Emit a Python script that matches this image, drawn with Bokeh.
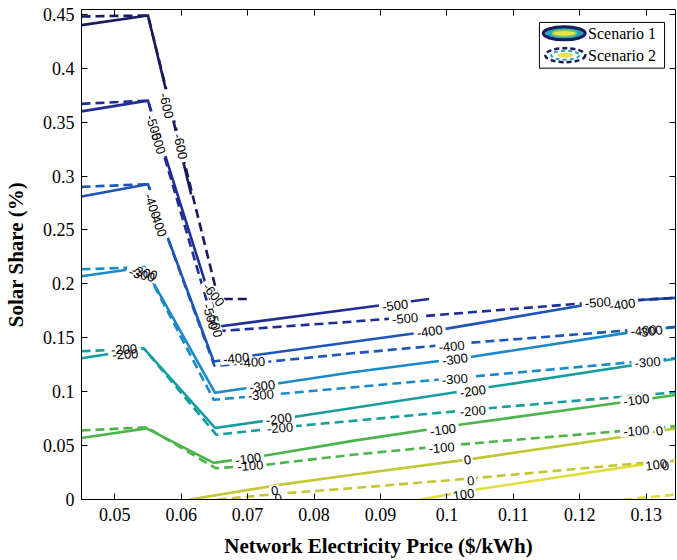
from bokeh.plotting import figure
from bokeh.models import Range1d, LinearAxis, FixedTicker
from bokeh.core.properties import value
from bokeh.embed import file_html
from bokeh.resources import INLINE

# ---- axes -------------------------------------------------------------
price_range = (0.045, 0.1344)
share_range = (0.0, 0.4545)
price_ticks = [0.05, 0.06, 0.07, 0.08, 0.09, 0.10, 0.11, 0.12, 0.13]
price_tick_labels = ["0.05", "0.06", "0.07", "0.08", "0.09", "0.1", "0.11", "0.12", "0.13"]
share_ticks = [0.0, 0.05, 0.10, 0.15, 0.20, 0.25, 0.30, 0.35, 0.40, 0.45]
share_tick_labels = ["0", "0.05", "0.1", "0.15", "0.2", "0.25", "0.3", "0.35", "0.4", "0.45"]

# ---- contour levels and colours ---------------------------------------
levels = [-600, -500, -400, -300, -200, -100, 0, 100]
level_colors = ["#191c5c", "#1f2e95", "#1d56b8", "#1889c9",
                "#169e9e", "#4cb54a", "#c5c535", "#e3dd3c"]

# ---- Scenario 1 contour paths (price $/kWh, solar share) --------------
s1_m600_price = [0.045, 0.0550, 0.0615]
s1_m600_share = [0.440, 0.449, 0.283]
s1_m500_price = [0.045, 0.0550, 0.0657, 0.0898, 0.0973]
s1_m500_share = [0.360, 0.370, 0.1605, 0.180, 0.186]
s1_m400_price = [0.045, 0.0550, 0.0649, 0.0713, 0.0950, 0.1002, 0.1232, 0.1344]
s1_m400_share = [0.281, 0.2925, 0.128, 0.134, 0.154, 0.1587, 0.183, 0.187]
s1_m300_price = [0.045, 0.0545, 0.0651, 0.0750, 0.0858, 0.1040, 0.1276, 0.1344]
s1_m300_share = [0.207, 0.2155, 0.099, 0.108, 0.118, 0.1326, 0.155, 0.160]
s1_m200_price = [0.045, 0.0544, 0.0651, 0.0779, 0.0858, 0.1067, 0.1344]
s1_m200_share = [0.131, 0.140, 0.0664, 0.0775, 0.0849, 0.1045, 0.1305]
s1_m100_price = [0.045, 0.0548, 0.0649, 0.0734, 0.0858, 0.1022, 0.1257, 0.1344]
s1_m100_share = [0.057, 0.066, 0.034, 0.0415, 0.0544, 0.0695, 0.0895, 0.097]
s1_zero_price = [0.0613, 0.0750, 0.0858, 0.1031, 0.1296, 0.1344]
s1_zero_share = [0.0, 0.0138, 0.023, 0.037, 0.061, 0.066]
s1_p100_price = [0.0960, 0.1047, 0.1296, 0.1344]
s1_p100_share = [0.0, 0.0095, 0.0326, 0.036]

# ---- Scenario 2 contour paths -----------------------------------------
s2_m600_price = [0.045, 0.0550, 0.0656, 0.0703]
s2_m600_share = [0.448, 0.449, 0.186, 0.186]
s2_m500_price = [0.045, 0.0550, 0.0652, 0.0858, 0.0962, 0.1206, 0.1344]
s2_m500_share = [0.367, 0.370, 0.156, 0.165, 0.170, 0.182, 0.187]
s2_m400_price = [0.045, 0.0550, 0.0650, 0.0734, 0.0858, 0.1027, 0.1276, 0.1344]
s2_m400_share = [0.290, 0.2925, 0.124, 0.128, 0.1356, 0.145, 0.157, 0.160]
s2_m300_price = [0.045, 0.0545, 0.0649, 0.0743, 0.0858, 0.1037, 0.1281, 0.1344]
s2_m300_share = [0.2135, 0.2155, 0.0925, 0.0977, 0.104, 0.114, 0.1275, 0.131]
s2_m200_price = [0.045, 0.0544, 0.0653, 0.0771, 0.0858, 0.1067, 0.1344]
s2_m200_share = [0.1375, 0.140, 0.060, 0.068, 0.0729, 0.0849, 0.0995]
s2_m100_price = [0.045, 0.0548, 0.0652, 0.0728, 0.0858, 0.1019, 0.1266, 0.1344]
s2_m100_share = [0.064, 0.067, 0.029, 0.0323, 0.0415, 0.051, 0.0637, 0.068]
s2_zero_price = [0.0655, 0.0749, 0.0858, 0.1036, 0.1296, 0.1344]
s2_zero_share = [0.0, 0.0055, 0.0105, 0.0195, 0.034, 0.036]
s2_p100_price = [0.1265, 0.1344]
s2_p100_share = [0.0, 0.0045]

scenario1 = [
    (-600, s1_m600_price, s1_m600_share), (-500, s1_m500_price, s1_m500_share),
    (-400, s1_m400_price, s1_m400_share), (-300, s1_m300_price, s1_m300_share),
    (-200, s1_m200_price, s1_m200_share), (-100, s1_m100_price, s1_m100_share),
    (0, s1_zero_price, s1_zero_share), (100, s1_p100_price, s1_p100_share),
]
scenario2 = [
    (-600, s2_m600_price, s2_m600_share), (-500, s2_m500_price, s2_m500_share),
    (-400, s2_m400_price, s2_m400_share), (-300, s2_m300_price, s2_m300_share),
    (-200, s2_m200_price, s2_m200_share), (-100, s2_m100_price, s2_m100_share),
    (0, s2_zero_price, s2_zero_share), (100, s2_p100_price, s2_p100_share),
]

# ---- contour labels: level, price, share, rotation (rad) ---------------
label_level = [-600, -600, -500, -500, -400, -400, -300, -300, -200, -200,
               -600, -500, -500, -400, -400, -300, -300, -200, -200, -100, -100, 0, 0,
               -500, -500, -400, -400, -300, -300, -200, -200, -100, -100, 0, 0, 100,
               -500, -400, -400, -300, -300, -100, -100, 0, 100, 0]
label_price = [0.0578, 0.0599, 0.0559, 0.0565, 0.0557, 0.0566, 0.0541, 0.0545, 0.0514, 0.0516,
               0.0649, 0.0644, 0.0651, 0.0683, 0.0707, 0.0722, 0.0720, 0.0747, 0.0749, 0.0701, 0.0704, 0.0741, 0.0746,
               0.0922, 0.0937, 0.0974, 0.1007, 0.1012, 0.1012, 0.1039, 0.1039, 0.0994, 0.0992, 0.1031, 0.1036, 0.1025,
               0.1227, 0.1264, 0.1296, 0.1305, 0.1302, 0.1285, 0.1285, 0.1320, 0.1315, 0.1329]
label_share = [0.3653, 0.3275, 0.3450, 0.3321, 0.2721, 0.2555, 0.2085, 0.2103, 0.1393, 0.1347,
               0.1900, 0.1697, 0.1624, 0.1310, 0.1273, 0.1052, 0.0969, 0.0747, 0.0664, 0.0378, 0.0314, 0.0083, 0.0010,
               0.1799, 0.1679, 0.1559, 0.1421, 0.1301, 0.1116, 0.1005, 0.0821, 0.0646, 0.0480, 0.0369, 0.0175, 0.0046,
               0.1827, 0.1808, 0.1568, 0.1559, 0.1273, 0.0923, 0.0637, 0.0637, 0.0323, 0.0314]
label_angle = [-1.34, -1.36, -1.27, -1.27, -1.22, -1.22, -0.25, -0.25, 0.05, 0.05,
               -0.90, -1.30, -1.30, 0.10, 0.07, 0.13, 0.08, 0.13, 0.08, 0.13, 0.08, 0.13, 0.08,
               0.12, 0.08, 0.14, 0.08, 0.14, 0.08, 0.14, 0.08, 0.14, 0.08, 0.14, 0.08, 0.14,
               0.08, 0.14, 0.08, 0.14, 0.08, 0.14, 0.08, 0.14, 0.14, 0.08]
label_text = [str(v) for v in label_level]

# ---- figure -----------------------------------------------------------
p = figure(width=677, height=560, output_backend="svg", toolbar_location=None,
           x_range=Range1d(*price_range), y_range=Range1d(*share_range),
           min_border_left=77, min_border_right=2, min_border_top=9, min_border_bottom=58)
p.background_fill_color = "white"
p.border_fill_color = "white"
p.grid.visible = False
p.outline_line_color = "black"
p.outline_line_width = 1

serif = "Liberation Serif"
for ax, ticks, labels in ((p.xaxis[0], price_ticks, price_tick_labels),
                          (p.yaxis[0], share_ticks, share_tick_labels)):
    ax.ticker = FixedTicker(ticks=ticks)
    ax.major_label_overrides = dict(zip(ticks, labels))
    ax.major_tick_in = 6
    ax.major_tick_out = 0
    ax.minor_tick_line_color = None
    ax.axis_line_color = "black"
    ax.major_label_text_font = serif
    ax.major_label_text_font_size = "18px"
    ax.major_label_text_color = "black"
    ax.axis_label_text_font = serif
    ax.axis_label_text_font_size = "21px"
    ax.axis_label_text_font_style = "bold"
    ax.axis_label_text_color = "black"

p.xaxis.axis_label = "Network Electricity Price ($/kWh)"
p.yaxis.axis_label = "Solar Share (%)"
p.xaxis.major_label_standoff = 8
p.yaxis.major_label_standoff = 7
p.xaxis.axis_label_standoff = 10
p.yaxis.axis_label_standoff = 12

# box ticks on the top and right edges
for side, ticks in (("above", price_ticks), ("right", share_ticks)):
    ax = LinearAxis(ticker=FixedTicker(ticks=ticks),
                    major_label_overrides={t: "" for t in ticks},
                    major_label_text_font_size="0px", major_label_standoff=0,
                    major_tick_in=6, major_tick_out=0,
                    minor_tick_line_color=None, axis_line_color=None)
    p.add_layout(ax, side)

# ---- contour lines ----------------------------------------------------
color_of = dict(zip(levels, level_colors))
for lvl, xs, ys in scenario1:
    p.line(xs, ys, line_color=color_of[lvl], line_width=2.6, line_join="round")
for lvl, xs, ys in scenario2:
    p.line(xs, ys, line_color=color_of[lvl], line_width=2.6, line_dash="9 5")

# gaps under the inline labels, then the labels
gap_width = [7.3 * len(t) + 3 for t in label_text]
p.rect(x=label_price, y=label_share, width=gap_width, height=11,
       width_units="screen", height_units="screen", angle=label_angle,
       fill_color="white", line_color=None)
p.text(x=label_price, y=label_share, text=label_text, angle=label_angle,
       text_font=value("Liberation Sans"), text_font_size="13px",
       text_color="black", text_align="center", text_baseline="middle")

# ---- legend box with contour-style icons -------------------------------
x0, x1 = price_range
y0, y1 = share_range
fl, ft, fw, fh = 77, 9, 598, 493  # frame placement in the page


def at_x(px):
    return x0 + (px - fl) / fw * (x1 - x0)


def at_y(py):
    return y1 - (py - ft) / fh * (y1 - y0)


p.quad(left=[at_x(538)], right=[at_x(664)], top=[at_y(22)], bottom=[at_y(68)],
       fill_color="white", line_color="black", line_width=1)
# Scenario 1: solid filled rings
p.ellipse(x=[at_x(563)], y=[at_y(33)], width=42, height=13,
          width_units="screen", height_units="screen",
          fill_color="#27a2bf", line_color="#191c5c", line_width=3)
p.ellipse(x=[at_x(563)], y=[at_y(33)], width=24, height=6,
          width_units="screen", height_units="screen",
          fill_color="#e6e447", line_color="#8cc85a", line_width=1.5)
# Scenario 2: dashed rings
p.ellipse(x=[at_x(564)], y=[at_y(55)], width=40, height=14,
          width_units="screen", height_units="screen",
          fill_color=None, line_color="#191c5c", line_width=2.5, line_dash="5 3")
p.ellipse(x=[at_x(564)], y=[at_y(55)], width=28, height=9,
          width_units="screen", height_units="screen",
          fill_color=None, line_color="#27a2bf", line_width=2, line_dash="4 3")
p.ellipse(x=[at_x(564)], y=[at_y(55)], width=16, height=5,
          width_units="screen", height_units="screen",
          fill_color="#e6e447", line_color=None)
p.text(x=[at_x(587), at_x(587)], y=[at_y(33), at_y(55)], text=["Scenario 1", "Scenario 2"],
       text_font=value(serif), text_font_size="16px", text_color="black",
       text_align="left", text_baseline="middle")

open("out.html", "w").write(file_html(p, INLINE))
